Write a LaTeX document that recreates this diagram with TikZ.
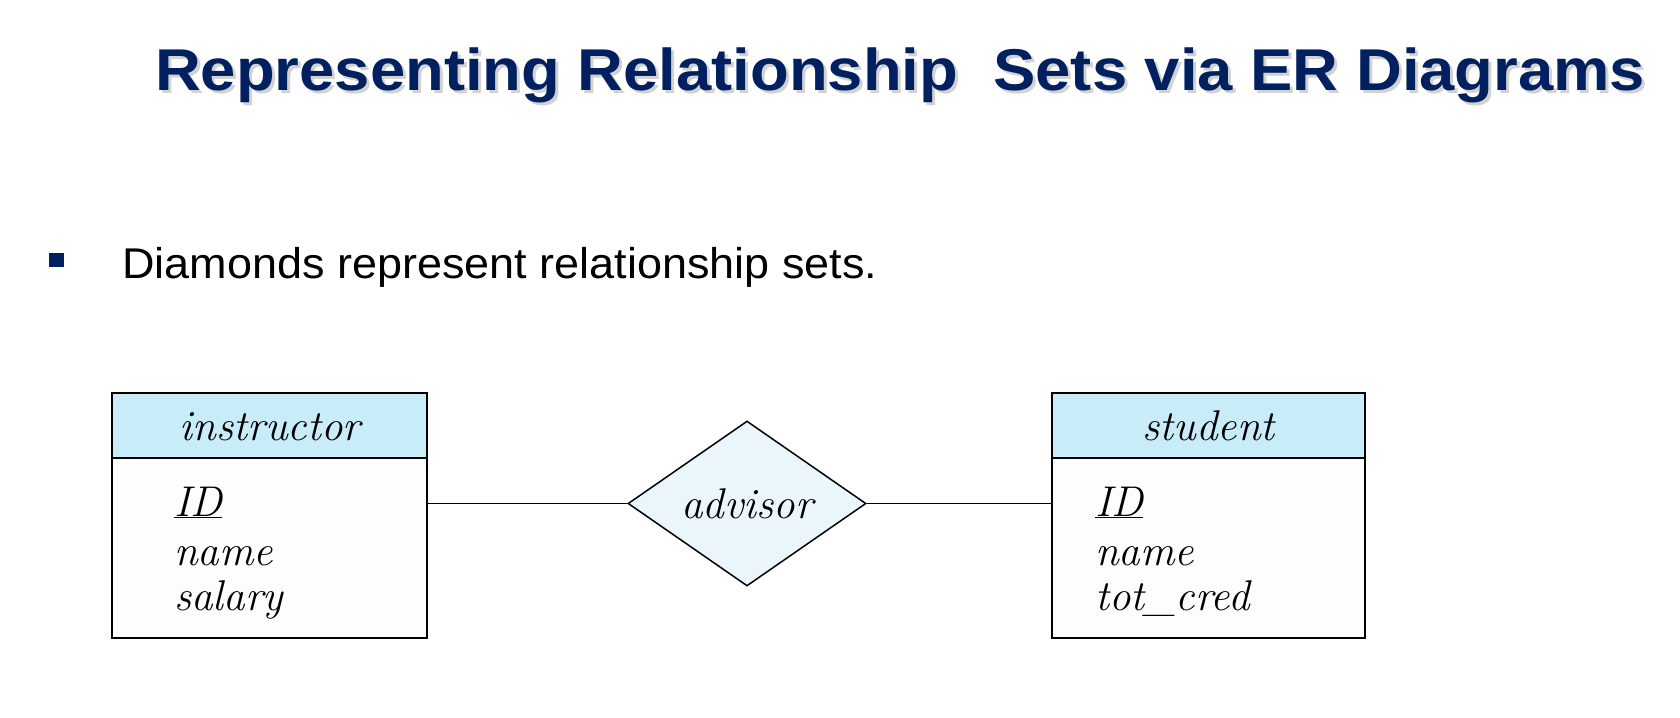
\documentclass[tikz,border=0pt]{standalone}
\usepackage{fontspec}
\usepackage{graphicx}
\usetikzlibrary{shapes.geometric}
\newfontfamily\arialfont{Liberation Sans}
\definecolor{navy}{HTML}{002060}
\definecolor{headblue}{HTML}{C9ECF9}
\definecolor{diafill}{HTML}{EBF6FC}
\definecolor{bodyfill}{HTML}{FDFDFD}
\tikzset{
  titletext/.style={anchor=base west, inner sep=0, font=\arialfont\bfseries\fontsize{59}{70}\selectfont},
  entityhead/.style={draw=black, line width=1.8pt, fill=headblue, minimum height=65pt, inner sep=0},
  entitybody/.style={draw=black, line width=1.8pt, fill=bodyfill, minimum height=180pt, inner sep=0},
  reldia/.style={diamond, draw=black, line width=1.5pt, fill=diafill, minimum width=238pt, minimum height=165pt, inner sep=0},
  ertext/.style={inner sep=0, font=\itshape\fontsize{43}{46}\selectfont},
  attr/.style={ertext, anchor=base west},
  conn/.style={line width=1.5pt, draw=black}
}
\begin{document}
\begin{tikzpicture}[x=1pt, y=-1pt]
\useasboundingbox (0,0) rectangle (1680,717);
\fill[white] (0,0) rectangle (1680,717);
% title with shadow
\node[titletext, text=black!25, opacity=0.7] (titleshadow) at (158,93) {\resizebox{1490pt}{\height}{Representing Relationship\ \ Sets via ER Diagrams}};
\node[titletext, text=navy] (title) at (155,90) {\resizebox{1490pt}{\height}{Representing Relationship\ \ Sets via ER Diagrams}};
% bullet
\node[fill=navy, minimum width=15pt, minimum height=14pt, inner sep=0] (bullet) at (56.5,260) {};
\node[anchor=base west, inner sep=0, font=\arialfont\fontsize{43}{50}\selectfont] (btext) at (122,278) {\resizebox{755pt}{\height}{Diamonds represent relationship sets.}};
% instructor entity
\node[entityhead, minimum width=315pt] (ihead) at (269.5,425.5) {};
\node[entitybody, minimum width=315pt] (ibody) at (269.5,548) {};
\node[ertext, anchor=base] (ilabel) at (270,440) {instructor};
\node[attr] (iid) at (174,516) {\underline{ID}};
\node[attr] (iname) at (174,565) {name};
\node[attr] (isal) at (174,610) {salary};
% student entity
\node[entityhead, minimum width=313pt] (shead) at (1208.5,425.5) {};
\node[entitybody, minimum width=313pt] (sbody) at (1208.5,548) {};
\node[ertext, anchor=base] (slabel) at (1208.5,440) {student};
\node[attr] (sid) at (1095,516) {\underline{ID}};
\node[attr] (sname) at (1095,565) {name};
\node[attr] (scred) at (1095,610) {tot\_cred};
% relationship
\node[reldia] (dia) at (747,503.5) {};
\node[ertext, anchor=base] (dlabel) at (747,518) {advisor};
% connectors
\draw[conn] (ibody.east |- dia.west) -- (dia.west);
\draw[conn] (dia.east) -- (sbody.west |- dia.east);
\end{tikzpicture}
\end{document}
